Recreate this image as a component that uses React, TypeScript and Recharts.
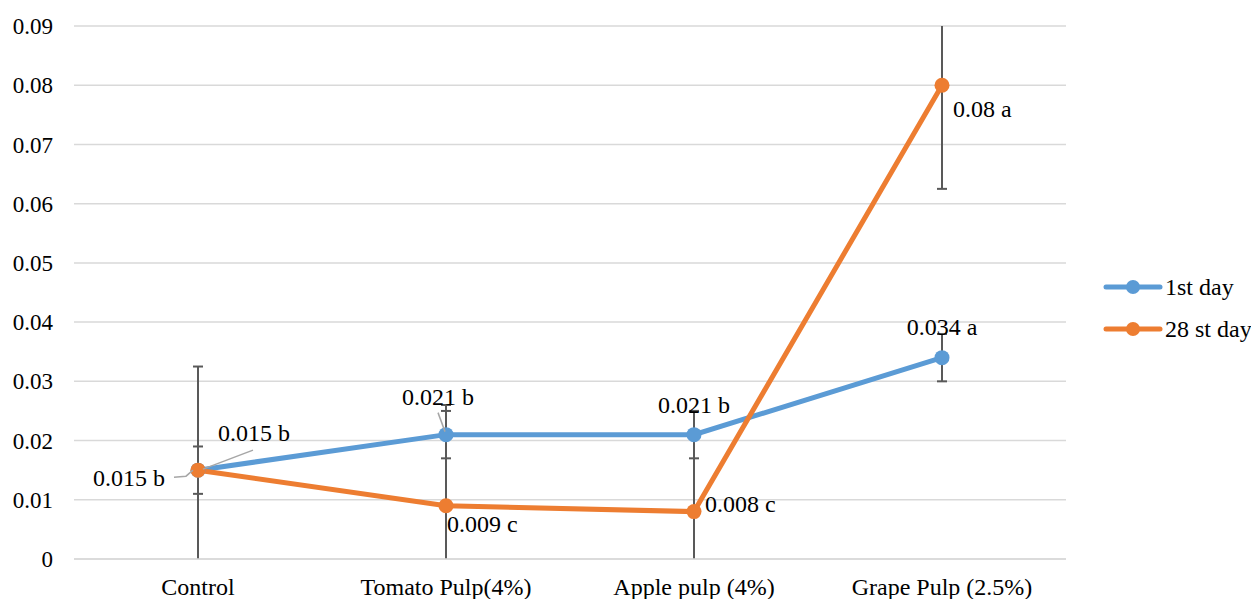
import React from "react";
import {
  LineChart,
  Line,
  XAxis,
  YAxis,
  CartesianGrid,
  ErrorBar,
  LabelList,
} from "recharts";

const categories = [
  "Control",
  "Tomato Pulp(4%)",
  "Apple pulp (4%)",
  "Grape Pulp (2.5%)",
];
const day1 = [0.015, 0.021, 0.021, 0.034];
const day28 = [0.015, 0.009, 0.008, 0.08];
const day1Err = [0.004, 0.004, 0.004, 0.004];
const day28Err = [0.0175, 0.017, 0.017, 0.0175];
const day1Groups = ["b", "b", "b", "a"];
const day28Groups = ["b", "c", "c", "a"];
const yTicks = [0, 0.01, 0.02, 0.03, 0.04, 0.05, 0.06, 0.07, 0.08, 0.09];

const data = categories.map((name, i) => ({
  name,
  day1: day1[i],
  day28: day28[i],
  err1: day1Err[i],
  err28: day28Err[i],
}));

const BLUE = "#5b9bd5";
const ORANGE = "#ed7d31";
const FONT = "'Liberation Serif', 'Times New Roman', serif";

// label placement relative to the point (Excel moved some of them by hand)
type Pos = { dx: number; dy: number; anchor: "start" | "middle" | "end"; leader?: number[][] };
const pos1: Pos[] = [
  { dx: 20, dy: -37, anchor: "start", leader: [[5, -1], [55, -20]] },
  { dx: -8, dy: -38, anchor: "middle", leader: [[-8, -22], [-1, -3]] },
  { dx: 0, dy: -30, anchor: "middle" },
  { dx: 0, dy: -31, anchor: "middle" },
];
const pos28: Pos[] = [
  { dx: -33, dy: 8, anchor: "end", leader: [[-24, 7], [-12, 6], [-5, 0]] },
  { dx: 1, dy: 18, anchor: "start" },
  { dx: 11, dy: -8, anchor: "start" },
  { dx: 11, dy: 24, anchor: "start" },
];

function makeLabel(positions: Pos[], groups: string[]) {
  return (props: any) => {
    const { x, y, value, index } = props;
    const p = positions[index];
    if (!p) return null;
    return (
      <g>
        {p.leader && (
          <polyline
            points={p.leader.map(([a, b]) => `${x + a},${y + b}`).join(" ")}
            fill="none"
            stroke="#a6a6a6"
            strokeWidth={1.5}
          />
        )}
        <text
          x={x + p.dx}
          y={y + p.dy}
          textAnchor={p.anchor}
          dominantBaseline="central"
          fontSize={24}
          fontFamily={FONT}
          fill="#000"
        >
          {`${value} ${groups[index]}`}
        </text>
      </g>
    );
  };
}

function LegendBox() {
  const items = [
    { name: "1st day", color: BLUE },
    { name: "28 st day", color: ORANGE },
  ];
  return (
    <svg width={151} height={80}>
      {items.map((it, i) => (
        <g key={it.name} transform={`translate(0, ${17 + i * 42})`}>
          <line x1={6} x2={60} y1={0} y2={0} stroke={it.color} strokeWidth={5} strokeLinecap="round" />
          <circle cx={33} cy={0} r={7} fill={it.color} />
          <text x={65} y={0} dominantBaseline="central" fontSize={24} fontFamily={FONT} fill="#000">
            {it.name}
          </text>
        </g>
      ))}
    </svg>
  );
}

export default function App() {
  return (
    <div style={{ position: "fixed", left: 0, top: 0, width: 1251, height: 599, background: "#fff" }}>
      <LineChart
        width={1251}
        height={599}
        data={data}
        margin={{ top: 26, right: 185, bottom: 0, left: 0 }}
      >
        <defs>
          <clipPath id="plotClip">
            <rect x={0} y={26} width={1251} height={533} />
          </clipPath>
        </defs>
        <CartesianGrid vertical={false} stroke="#d9d9d9" strokeWidth={1.5} />
        <XAxis
          dataKey="name"
          scale="band"
          height={40}
          tickLine={false}
          tickSize={0}
          tickMargin={19}
          axisLine={{ stroke: "#d9d9d9", strokeWidth: 1.5 }}
          tick={{ fontSize: 24, fontFamily: FONT, fill: "#000" }}
          interval={0}
        />
        <YAxis
          width={74}
          domain={[0, 0.09]}
          ticks={yTicks}
          allowDataOverflow
          axisLine={false}
          tickLine={false}
          tickSize={0}
          tickMargin={21}
          tickFormatter={(v: number) => (v === 0 ? "0" : v.toFixed(2))}
          tick={{ fontSize: 23, fontFamily: FONT, fill: "#000" }}
        />
        <Line
          dataKey="day1"
          name="1st day"
          stroke={BLUE}
          strokeWidth={5}
          dot={{ r: 7.5, fill: BLUE, stroke: BLUE, strokeWidth: 0 }}
          activeDot={false}
          isAnimationActive={false}
        >
          <ErrorBar dataKey="err1" direction="y" width={5} stroke="#595959" strokeWidth={2} clipPath="url(#plotClip)" />
          <LabelList dataKey="day1" content={makeLabel(pos1, day1Groups)} />
        </Line>
        <Line
          dataKey="day28"
          name="28 st day"
          stroke={ORANGE}
          strokeWidth={5}
          dot={{ r: 7.5, fill: ORANGE, stroke: ORANGE, strokeWidth: 0 }}
          activeDot={false}
          isAnimationActive={false}
        >
          <ErrorBar dataKey="err28" direction="y" width={5} stroke="#595959" strokeWidth={2} clipPath="url(#plotClip)" />
          <LabelList dataKey="day28" content={makeLabel(pos28, day28Groups)} />
        </Line>
      </LineChart>
      <div style={{ position: "absolute", left: 1100, top: 270 }}>
        <LegendBox />
      </div>
    </div>
  );
}
